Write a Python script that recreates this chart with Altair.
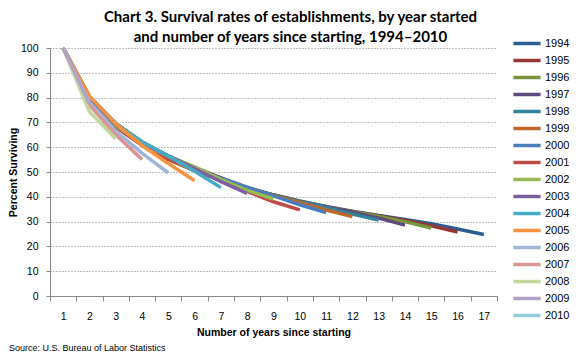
import altair as alt
import pandas as pd

years_since = list(range(1, 18))
cohorts = [str(y) for y in range(1994, 2011)]

s1994 = [100, 79.6, 68.9, 61.6, 56.1, 51.7, 47.6, 43.7, 40.8, 38.3, 36.1, 34.2, 32.5, 30.9, 29.1, 27.0, 24.8]
s1995 = [100, 80.0, 69.2, 62.0, 56.4, 51.9, 47.5, 43.5, 40.6, 38.0, 35.8, 34.0, 32.3, 30.5, 28.3, 25.8]
s1996 = [100, 79.8, 69.4, 62.1, 56.3, 51.5, 46.9, 43.4, 40.6, 38.1, 35.8, 34.0, 32.1, 30.0, 27.4]
s1997 = [100, 80.3, 69.6, 62.0, 56.0, 50.8, 46.8, 43.5, 40.6, 38.0, 35.9, 33.8, 31.4, 28.6]
s1998 = [100, 80.5, 69.4, 61.5, 55.2, 50.5, 46.7, 43.4, 40.5, 38.0, 35.6, 33.0, 30.6]
s1999 = [100, 80.4, 69.0, 60.9, 55.0, 50.6, 46.9, 43.6, 40.5, 37.7, 34.7, 32.0]
s2000 = [100, 79.9, 68.3, 60.9, 55.4, 51.2, 47.5, 43.9, 40.4, 36.8, 33.6]
s2001 = [100, 78.7, 68.1, 60.8, 55.3, 51.0, 46.8, 42.2, 38.0, 34.7]
s2002 = [100, 79.3, 68.7, 61.5, 56.3, 52.1, 47.0, 42.6, 39.1]
s2003 = [100, 79.9, 69.1, 61.9, 56.5, 51.4, 46.1, 41.4]
s2004 = [100, 80.4, 69.6, 62.2, 56.5, 50.3, 43.7]
s2005 = [100, 80.6, 69.5, 60.7, 53.4, 46.5]
s2006 = [100, 78.0, 66.5, 57.6, 49.6]
s2007 = [100, 77.0, 65.0, 55.1]
s2008 = [100, 74.3, 63.4]
s2009 = [100, 77.5]
s2010 = [100]

series = [s1994, s1995, s1996, s1997, s1998, s1999, s2000, s2001, s2002,
          s2003, s2004, s2005, s2006, s2007, s2008, s2009, s2010]

colors = ["#2C5D92", "#953735", "#77933C", "#5F4A7B", "#31849B", "#C0662A",
          "#4A7EBB", "#BE4B48", "#98B954", "#7D60A0", "#46AAC5", "#F69240",
          "#A2B5D8", "#D99694", "#C3D69B", "#B3A2C7", "#93CDDD"]

rows = []
for c, vals in zip(cohorts, series):
    for i, v in enumerate(vals):
        rows.append({"Year started": c, "years": years_since[i], "pct": v, "order": int(c)})
df = pd.DataFrame(rows)

FONT = "Liberation Sans"

lines = alt.Chart(df).mark_line(strokeWidth=3.5, strokeCap="butt", strokeJoin="round").encode(
    x=alt.X("years:O", bandPosition=0.5,
            scale=alt.Scale(type="band", paddingInner=0, paddingOuter=0, domain=years_since),
            axis=alt.Axis(title="Number of years since  starting", labelAngle=0,
                          tickBand="extent", tickSize=5, labelPadding=10,
                          titlePadding=6, grid=False)),
    y=alt.Y("pct:Q", scale=alt.Scale(domain=[0, 100], nice=False),
            axis=alt.Axis(title="Percent Surviving", values=list(range(0, 101, 10)),
                          tickSize=4, labelPadding=8, titlePadding=2,
                          grid=True, gridDash=[1, 2], gridColor="#808080", gridWidth=1)),
    color=alt.Color("Year started:N", scale=alt.Scale(domain=cohorts, range=colors),
                    legend=alt.Legend(title=None, orient="none", legendX=467, legendY=-14.5,
                                      symbolType="M-1.7,0L1.7,0", symbolSize=256,
                                      symbolStrokeWidth=3.5, symbolFillColor="transparent",
                                      rowPadding=0,
                                      labelFontSize=11, labelFont=FONT,
                                      labelOffset=8, padding=0)),
    order=alt.Order("order:Q"),
    detail="Year started:N",
)

source_df = pd.DataFrame({"t": ["Source: U.S. Bureau of Labor Statistics"]})
source = alt.Chart(source_df).mark_text(align="left", baseline="middle", fontSize=9,
                                        font=FONT, color="#000000").encode(
    x=alt.value(-41), y=alt.value(300), text="t:N")

chart = alt.layer(lines, source).properties(
    width=447, height=248,
    autosize=alt.AutoSizeParams(type="none"),
    padding={"left": 42, "top": 40, "right": 75, "bottom": 56},
    title=alt.TitleParams(
        text=["Chart 3. Survival rates of establishments, by year started",
              "and number of years since starting, 1994\u20132010"],
        font="Lato", fontSize=15, fontWeight="bold", anchor="middle", dx=17,
        offset=-11, lineHeight=20, color="#000000"),
).configure_view(stroke=None).configure_axis(
    domainColor="#868686", tickColor="#868686", labelFont=FONT, labelFontSize=10.5,
    labelColor="#000000", titleFont=FONT, titleFontSize=10.5, titleFontWeight="bold",
    titleColor="#000000",
).configure_legend(labelColor="#000000")

chart.save("out.html", embed_options={"renderer": "svg", "actions": False})
